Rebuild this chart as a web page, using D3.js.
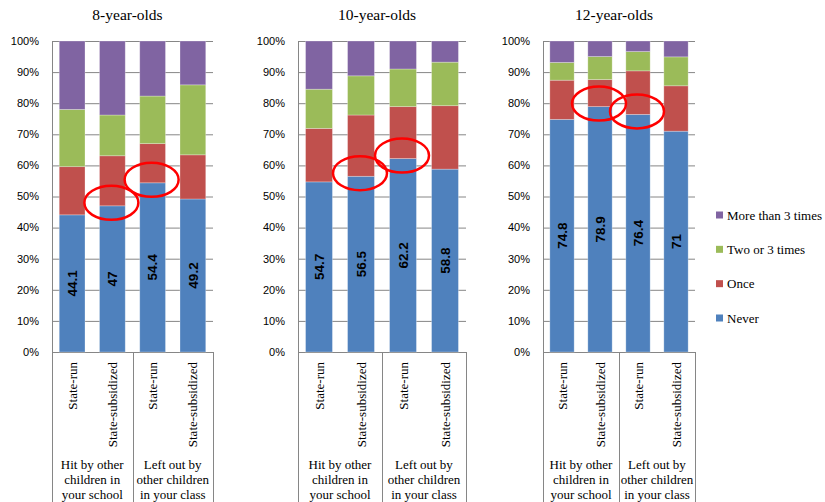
<!DOCTYPE html>
<html>
<head>
<meta charset="utf-8">
<script src="https://cdn.jsdelivr.net/npm/d3@7"></script>
<style>
  body { margin: 0; background: #fff; }
  svg { display: block; }
  .serif { font-family: "Liberation Serif", "DejaVu Serif", serif; }
  .sans { font-family: "Liberation Sans", Arial, sans-serif; }
</style>
</head>
<body>
<div id="chart"></div>
<script>
// data (percent of children)
const panelTitles = ["8-year-olds", "10-year-olds", "12-year-olds"];
const schools = ["State-run", "State-subsidized", "State-run", "State-subsidized"];
const groupLabels = [["Hit by other", "children in", "your school"], ["Left out by", "other children", "in your class"]];
const seriesNames = ["Never", "Once", "Two or 3 times", "More than 3 times"];
const never     = [[44.1, 47, 54.4, 49.2], [54.7, 56.5, 62.2, 58.8], [74.8, 78.9, 76.4, 71]];
const once      = [[15.5, 16.1, 12.6, 14.2], [17.2, 19.7, 16.7, 20.4], [12.6, 8.7, 14.0, 14.6]];
const twoOr3    = [[18.4, 13.1, 15.3, 22.5], [12.6, 12.6, 12.1, 14.0], [5.7, 7.4, 6.2, 9.3]];
const moreThan3 = [[22.0, 23.8, 17.7, 14.1], [15.5, 11.2, 9.0, 6.8], [6.9, 5.0, 3.4, 5.1]];
const yTicks = [0, 10, 20, 30, 40, 50, 60, 70, 80, 90, 100];
// bars circled in red on the original: [panel, bar]
const highlights = [[0, 1], [0, 2], [1, 1], [1, 2], [2, 1], [2, 2]];

const colors = ["#4F81BD", "#C0504D", "#9BBB59", "#8064A2"];

const width = 825, height = 502;
const svg = d3.select("#chart").append("svg")
  .attr("width", width)
  .attr("height", height);

const y = d3.scaleLinear().domain([0, 100]).range([352, 41]);
const plotX = [[52, 213], [298, 466], [543, 695]];
const gridColor = "#868686";

panelTitles.forEach((title, p) => {
  const rows = schools.map((s, i) => ({
    i: i,
    Never: never[p][i],
    Once: once[p][i],
    "Two or 3 times": twoOr3[p][i],
    "More than 3 times": moreThan3[p][i]
  }));
  const stacked = d3.stack().keys(seriesNames)(rows);

  const x = d3.scaleBand()
    .domain(d3.range(schools.length))
    .range(plotX[p])
    .paddingInner(0.36)
    .paddingOuter(0.18);

  const g = svg.append("g");
  const [x0, x1] = plotX[p];

  // title
  g.append("text")
    .attr("class", "serif")
    .attr("x", (x0 + x1) / 2 - 5)
    .attr("y", 20)
    .attr("text-anchor", "middle")
    .style("font-size", "15.5px")
    .text(title);

  // gridlines
  g.selectAll(".grid")
    .data(yTicks)
    .enter().append("line")
    .attr("x1", x0).attr("x2", x1)
    .attr("y1", d => y(d) + 0.5).attr("y2", d => y(d) + 0.5)
    .attr("stroke", gridColor)
    .attr("stroke-width", 1);

  // y tick labels
  g.selectAll(".ylab")
    .data(yTicks)
    .enter().append("text")
    .attr("class", "sans")
    .attr("x", x0 - 13)
    .attr("y", d => y(d))
    .attr("dy", "0.35em")
    .attr("text-anchor", "end")
    .style("font-size", "11px")
    .text(d => d + "%");

  // stacked bars
  g.selectAll(".layer")
    .data(stacked)
    .enter().append("g")
    .attr("fill", (d, k) => colors[k])
    .selectAll("rect")
    .data(d => d)
    .enter().append("rect")
    .attr("x", d => x(d.data.i))
    .attr("width", x.bandwidth())
    .attr("y", d => y(d[1]))
    .attr("height", d => y(d[0]) - y(d[1]))
    .attr("stroke", "#ffffff")
    .attr("stroke-opacity", 0.35)
    .attr("stroke-width", 0.8);

  // value labels on the Never segment
  g.selectAll(".vlab")
    .data(stacked[0])
    .enter().append("text")
    .attr("class", "sans")
    .attr("transform", d => `translate(${x(d.data.i) + x.bandwidth() / 2},${y((d[0] + d[1]) / 2)}) rotate(-90)`)
    .attr("text-anchor", "middle")
    .attr("dy", "0.35em")
    .style("font-size", "13.5px")
    .style("font-weight", "bold")
    .text(d => d.data.Never);

  // axis lines
  g.append("line")
    .attr("x1", x0 + 0.5).attr("x2", x0 + 0.5)
    .attr("y1", y(100)).attr("y2", height)
    .attr("stroke", gridColor);
  const mid = (x(1) + x.bandwidth() + x(2)) / 2;
  [mid, x1].forEach(xx => {
    g.append("line")
      .attr("x1", Math.round(xx) + 0.5).attr("x2", Math.round(xx) + 0.5)
      .attr("y1", y(0)).attr("y2", height)
      .attr("stroke", gridColor);
  });

  // school type labels
  g.selectAll(".xlab")
    .data(schools)
    .enter().append("text")
    .attr("class", "serif")
    .attr("transform", (d, i) => `translate(${x(i) + x.bandwidth() / 2},${y(0) + 10}) rotate(-90)`)
    .attr("text-anchor", "end")
    .attr("dy", "0.35em")
    .style("font-size", "13px")
    .text(d => d);

  // group labels
  const groupCenters = [(x0 + mid) / 2, (mid + x1) / 2];
  groupLabels.forEach((lines, gi) => {
    g.append("text")
      .attr("class", "serif")
      .attr("text-anchor", "middle")
      .style("font-size", "13px")
      .selectAll("tspan")
      .data(lines)
      .enter().append("tspan")
      .attr("x", groupCenters[gi])
      .attr("y", (d, li) => 469 + li * 15)
      .text(d => d);
  });

  // red circles drawn on the original image
  highlights.filter(h => h[0] === p).forEach(h => {
    const b = h[1];
    g.append("ellipse")
      .attr("cx", x(b) + x.bandwidth() / 2 - 1)
      .attr("cy", y(never[p][b]) - 3)
      .attr("rx", 27)
      .attr("ry", 17)
      .attr("fill", "none")
      .attr("stroke", "#FF0000")
      .attr("stroke-width", 2.5);
  });
});

// legend (top item first)
const legend = svg.append("g");
const legendY = d3.scalePoint().domain(seriesNames.slice().reverse()).range([215, 318]);
seriesNames.forEach((name, k) => {
  legend.append("rect")
    .attr("x", 716)
    .attr("y", legendY(name) - 3.5)
    .attr("width", 7)
    .attr("height", 7)
    .attr("fill", colors[k]);
  legend.append("text")
    .attr("class", "serif")
    .attr("x", 727)
    .attr("y", legendY(name))
    .attr("dy", "0.35em")
    .style("font-size", "13px")
    .text(name);
});
</script>
</body>
</html>
